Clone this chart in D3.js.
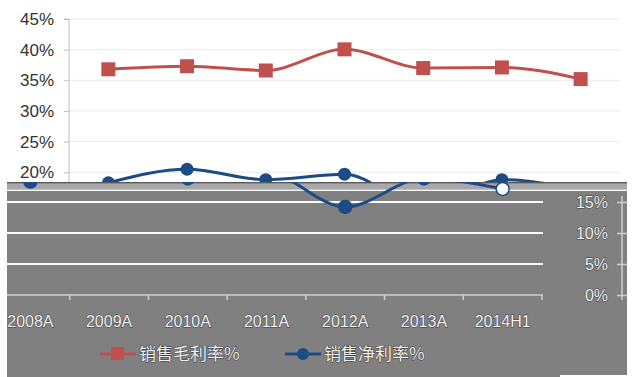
<!DOCTYPE html>
<html><head><meta charset="utf-8">
<script src="https://cdn.jsdelivr.net/npm/d3@7"></script>
<style>body{margin:0;background:#fff}svg{display:block}</style>
</head><body>
<svg id="c" width="632" height="377"></svg>
<script>
const categories = ["2008A","2009A","2010A","2011A","2012A","2013A","2014H1"];
const grossMargin = [36.8, 37.3, 36.6, 40.05, 37.0, 37.1, 35.2];
const netMargin   = [18.3, 20.5, 18.8, 19.7, 14.2, 18.8, 17.1];
const topTicks = [20, 25, 30, 35, 40, 45];
const bottomTicks = [0, 5, 10, 15];
const seriesNames = ["销售毛利率%", "销售净利率%"];

const RED = "#c0504d", BLUE = "#1d4b85", GRAY = "#808080";
const svg = d3.select("#c");
const fontLat = "Liberation Sans, Arial, sans-serif";
const fontCJK = "'Noto Sans CJK SC', sans-serif";

// ---- top (white) frame
const xTop = d3.scaleBand().domain(categories).range([69, 620]);
const yTop = d3.scaleLinear().domain([20, 45]).range([172.3, 19]);

svg.append("clipPath").attr("id","topclip").append("rect").attr("x",0).attr("y",0).attr("width",632).attr("height",183);
const gTop = svg.append("g").attr("clip-path","url(#topclip)");

gTop.selectAll("line.grid").data(topTicks).join("line")
  .attr("x1",69).attr("x2",620).attr("y1",d=>yTop(d)).attr("y2",d=>yTop(d))
  .attr("stroke","#ececec").attr("stroke-width",1);

const axL = gTop.append("g").attr("transform","translate(69,0)")
  .call(d3.axisLeft(yTop).tickValues(topTicks).tickFormat(d=>d+"%").tickSize(5).tickPadding(10));
axL.select(".domain").attr("stroke","#bfbfbf").attr("d","M-5,"+yTop(45)+"H0V190");
axL.selectAll(".tick line").attr("stroke","#bfbfbf");
axL.selectAll("text").attr("fill","#333").attr("font-size",17).attr("font-family",fontLat);

const lineTop = (vals) => d3.line().curve(d3.curveMonotoneX)
  .x((d,i)=>xTop(categories[i])+xTop.bandwidth()/2).y(d=>yTop(d))(vals);

gTop.append("path").attr("d",lineTop(grossMargin)).attr("fill","none").attr("stroke",RED).attr("stroke-width",3);
gTop.selectAll("rect.m").data(grossMargin).join("rect")
  .attr("x",(d,i)=>xTop(categories[i])+xTop.bandwidth()/2-7).attr("y",d=>yTop(d)-7)
  .attr("width",14).attr("height",14).attr("fill",RED);

gTop.append("path").attr("d",lineTop(netMargin)).attr("fill","none").attr("stroke",BLUE).attr("stroke-width",3);
gTop.selectAll("circle.m").data(netMargin).join("circle")
  .attr("cx",(d,i)=>xTop(categories[i])+xTop.bandwidth()/2).attr("cy",d=>yTop(d)).attr("r",6.5).attr("fill",BLUE);

// ---- bottom (gray) frame
svg.append("rect").attr("x",7).attr("y",182).attr("width",620).attr("height",195).attr("fill",GRAY);
svg.append("rect").attr("x",7).attr("y",182).attr("width",620).attr("height",1.5).attr("fill","#5a5a5a");
svg.append("rect").attr("x",7).attr("y",183.5).attr("width",620).attr("height",6).attr("fill","#a8a8a8");
svg.append("rect").attr("x",7).attr("y",189.5).attr("width",620).attr("height",1.5).attr("fill","#f4f4f4");
svg.append("rect").attr("x",560).attr("y",375).attr("width",72).attr("height",2).attr("fill","#fff");

const xBot = d3.scaleBand().domain(categories).range([-9, 542]);
const yBot = d3.scaleLinear().domain([0, 15]).range([295, 202]);

svg.selectAll("line.bgrid").data(bottomTicks.filter(d=>d>0)).join("line")
  .attr("x1",7).attr("x2",543).attr("y1",d=>yBot(d)).attr("y2",d=>yBot(d))
  .attr("stroke","#fafafa").attr("stroke-width",2);

const axB = svg.append("g").attr("transform","translate(0,295)")
  .call(d3.axisBottom(xBot).tickSize(0).tickPadding(21));
axB.select(".domain").attr("stroke","#d0d0d0").attr("stroke-width",1.5).attr("d","M7,0H543");
axB.selectAll(".tick line").remove();
axB.selectAll("text").attr("fill","#f4f4f4").attr("stroke","#3a3a3a").attr("stroke-width",1)
  .attr("paint-order","stroke").attr("font-size",16).attr("font-family",fontLat);
axB.selectAll("line.bt").data(categories.slice(1)).join("line")
  .attr("x1",d=>xBot(d)).attr("x2",d=>xBot(d)).attr("y1",0).attr("y2",5)
  .attr("stroke","#d0d0d0").attr("stroke-width",1.5);
axB.append("line").attr("x1",542).attr("x2",542).attr("y1",0).attr("y2",5).attr("stroke","#d0d0d0").attr("stroke-width",1.5);

const axR = svg.append("g").attr("transform","translate(622,0)")
  .call(d3.axisLeft(yBot).tickValues(bottomTicks).tickFormat(d=>d+"%").tickSize(0).tickPadding(14));
axR.select(".domain").attr("stroke","#d0d0d0").attr("stroke-width",1.5).attr("d","M0,196V300");
axR.selectAll(".tick").append("line").attr("x1",-5).attr("x2",5).attr("stroke","#d0d0d0").attr("stroke-width",1.5);
axR.selectAll("text").attr("fill","#f4f4f4").attr("stroke","#3a3a3a").attr("stroke-width",1)
  .attr("paint-order","stroke").attr("font-size",16).attr("font-family",fontLat);

svg.append("clipPath").attr("id","botclip").append("rect").attr("x",7).attr("y",182).attr("width",620).attr("height",195);
const gBot = svg.append("g").attr("clip-path","url(#botclip)");
const lineBot = d3.line().curve(d3.curveMonotoneX)
  .x((d,i)=>xBot(categories[i])+xBot.bandwidth()/2).y(d=>yBot(d));
gBot.append("path").attr("d",lineBot(netMargin)).attr("fill","none").attr("stroke",BLUE).attr("stroke-width",3);
gBot.selectAll("circle.b").data(netMargin).join("circle")
  .attr("cx",(d,i)=>xBot(categories[i])+xBot.bandwidth()/2).attr("cy",d=>yBot(d)).attr("r",6.5)
  .attr("fill",(d,i)=>i===categories.length-1?"#fff":BLUE).attr("stroke",BLUE).attr("stroke-width",1.5);

// ---- legend
const leg = svg.append("g");
const legItems = [{name:seriesNames[0], color:RED, x:100, shape:"rect"},
                  {name:seriesNames[1], color:BLUE, x:285, shape:"circle"}];
legItems.forEach(it=>{
  leg.append("line").attr("x1",it.x).attr("x2",it.x+36).attr("y1",354).attr("y2",354).attr("stroke",it.color).attr("stroke-width",3);
  if(it.shape==="rect") leg.append("rect").attr("x",it.x+11).attr("y",347).attr("width",13).attr("height",13).attr("fill",it.color);
  else leg.append("circle").attr("cx",it.x+18).attr("cy",354).attr("r",6).attr("fill",it.color);
  leg.append("text").attr("x",it.x+39).attr("y",360).text(it.name)
    .attr("fill","#f0f0f0").attr("stroke","#3a3a3a").attr("stroke-width",1).attr("paint-order","stroke")
    .attr("font-size",17).attr("font-family",fontCJK);
});
</script>
</body></html>
